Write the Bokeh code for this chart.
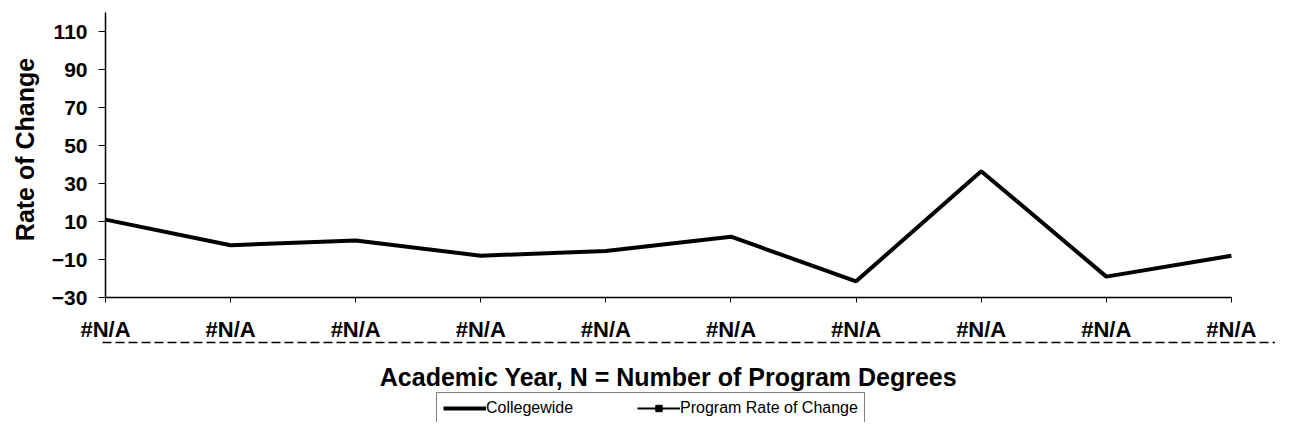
import math
from bokeh.plotting import figure
from bokeh.models import Range1d, FixedTicker, Legend, LegendItem, Arrow, Label
from bokeh.embed import file_html
from bokeh.resources import INLINE

# ---- data ----
years = ["#N/A", "#N/A", "#N/A", "#N/A", "#N/A", "#N/A", "#N/A", "#N/A", "#N/A", "#N/A"]
collegewide = [11, -2.5, 0, -8, -5.5, 2, -21.5, 36.5, -19, -8]
program_rate = [math.nan] * 10
y_ticks = [-30, -10, 10, 30, 50, 70, 90, 110]
x_title = "Academic Year, N = Number of Program Degrees"
y_title = "Rate of Change"

FONT = "Liberation Sans"
xs = list(range(len(years)))
Y_MIN, Y_MAX = -30, 120

# plot frame spans the whole canvas; axes are pinned at x=0 / y=-30
p = figure(width=1275, height=422, output_backend="svg", toolbar_location=None,
           x_range=Range1d(-0.8393, 9.3525), y_range=Range1d(-95.79, 126.32),
           min_border_left=0, min_border_right=0, min_border_top=0, min_border_bottom=0)
p.outline_line_color = None
p.xgrid.visible = False
p.ygrid.visible = False

r1 = p.line(xs, collegewide, line_color="black", line_width=4)
r2 = p.line(xs, program_rate, line_color="black", line_width=2)
r3 = p.scatter(xs, program_rate, marker="square", size=9, color="black")

# y axis
ya = p.yaxis[0]
ya.fixed_location = 0
ya.ticker = FixedTicker(ticks=y_ticks)
ya.bounds = (Y_MIN, Y_MAX)
ya.major_label_text_font = FONT
ya.major_label_text_font_style = "bold"
ya.major_label_text_font_size = "21px"
ya.major_label_text_color = "black"
ya.major_label_standoff = 11
ya.major_tick_out = 7
ya.major_tick_in = 0
ya.minor_tick_out = 0
ya.minor_tick_in = 0
ya.axis_line_width = 1.5
ya.axis_line_color = "black"
ya.major_tick_line_color = "black"

# x axis with the category labels, sitting at y = -30
xa = p.xaxis[0]
xa.fixed_location = Y_MIN
xa.bounds = (0, len(years) - 1)
xa.ticker = FixedTicker(ticks=xs)
xa.major_label_overrides = {i: lab for i, lab in zip(xs, years)}
xa.major_label_text_font = FONT
xa.major_label_text_font_style = "bold"
xa.major_label_text_font_size = "22px"
xa.major_label_text_color = "black"
xa.major_label_standoff = 14
xa.major_tick_out = 5
xa.major_tick_in = 0
xa.minor_tick_out = 0
xa.minor_tick_in = 0
xa.axis_line_width = 1.5
xa.axis_line_color = "black"
xa.major_tick_line_color = "black"

# axis titles
p.add_layout(Label(x=(xs[0] + xs[-1]) / 2, y=-72.1, text=x_title,
                   text_font=FONT, text_font_style="bold", text_font_size="25px",
                   text_color="black", text_align="center", text_baseline="middle"))
p.add_layout(Label(x=-0.64, y=47.9, text=y_title, angle=math.pi / 2,
                   text_font=FONT, text_font_style="bold", text_font_size="25px",
                   text_color="black", text_align="center", text_baseline="middle"))

# dashed rule under the label row
p.add_layout(Arrow(start=None, end=None, x_start=-0.024, x_end=9.45,
                   y_start=-53.7, y_end=-53.7, line_color="black",
                   line_width=1.5, line_dash="9 4"))

legend = Legend(items=[LegendItem(label="Collegewide", renderers=[r1]),
                       LegendItem(label="Program Rate of Change", renderers=[r2, r3])],
                orientation="horizontal", location=(436, -2),
                label_text_font=FONT, label_text_font_size="16px", label_text_color="black",
                glyph_width=43, glyph_height=16, label_standoff=0,
                label_width=90, spacing=61, padding=6, margin=0,
                border_line_color="black", border_line_width=1.2,
                background_fill_color="white", background_fill_alpha=1)
p.add_layout(legend, "center")

open("out.html", "w").write(file_html(p, INLINE))
